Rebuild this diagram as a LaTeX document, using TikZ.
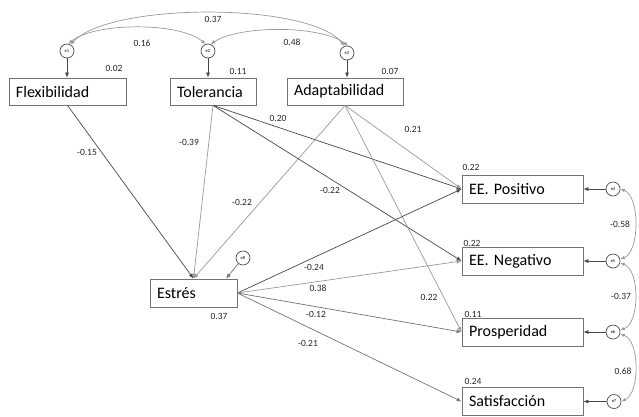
\documentclass[tikz,border=0pt]{standalone}
\usepackage{fontspec}
\setmainfont{Carlito}
\usetikzlibrary{arrows.meta,calc}
\begin{document}
\begin{tikzpicture}[x=1pt, y=-1pt, font=\fontsize{9.5}{11}\selectfont,
  var/.style={draw=black!55, line width=0.8pt, minimum height=27pt, inner xsep=7pt,
    align=left, font=\fontsize{16}{18}\selectfont},
  err/.style={draw=black!70, circle, minimum size=14pt, inner sep=0pt, line width=0.7pt,
    font=\fontsize{4.5}{5}\selectfont},
  num/.style={inner sep=0pt, text=black!85},
  dk/.style={draw=black!72, line width=0.7pt, -{Latex[length=5pt,width=4pt]}},
  md/.style={draw=black!55, line width=0.7pt, -{Latex[length=5pt,width=4pt]}},
  lt/.style={draw=black!40, line width=0.7pt, -{Latex[length=5pt,width=4pt]}},
  cov/.style={draw=black!40, line width=0.7pt,
    {Latex[length=4.5pt,width=3.5pt]}-{Latex[length=4.5pt,width=3.5pt]}}]
\useasboundingbox (0,0) rectangle (639,416);
% observed variables
\node[var, text width=103pt] (flex) at (67.5,91.5) {Flexibilidad};
\node[var, text width=72pt] (tol) at (213,91.5) {Tolerancia};
\node[var, text width=102pt] (adap) at (345,91.5) {Adaptabilidad};
\node[var, text width=73pt, minimum height=28pt] (estres) at (193.5,293) {Estrés};
\foreach \n/\y/\t in {pos/189/EE. Positivo, neg/261/EE. Negativo,
    pros/332/Prosperidad, sat/401.5/Satisfacción}
  \node[var, text width=107pt, minimum height=28pt] (\n) at (522.5,\y) {\t};
% error terms
\foreach \n/\x/\y in {1/67/51, 2/208/51, 3/347/53, 4/613/189, 5/613/261,
    6/613/332, 7/614/401.5, 8/243/258}
  \node[err] (e\n) at (\x,\y) {e\n};
\foreach \e/\v in {1/flex, 2/tol, 3/adap} \draw[dk] (e\e) -- (e\e |- \v.north);
\foreach \e/\v in {4/pos, 5/neg, 6/pros, 7/sat} \draw[dk] (e\e) -- (e\e -| \v.east);
\draw[md] (e8) -- ($(estres.north west)!0.87!(estres.north east)$);
% paths into Estrés
\draw[dk] (flex.south) -- (estres.north);
\draw[lt] (tol.south) -- (estres.north);
\draw[lt] (adap.south) -- (estres.north);
% paths into outcomes
\draw[dk] (tol.south) -- (pos.west);
\draw[dk] (tol.south) -- (neg.west);
\draw[lt] (adap.south) -- (pos.west);
\draw[lt] (adap.south) -- (pros.west);
\draw[dk] (estres.east) -- (pos.west);
\draw[lt] (estres.east) -- (neg.west);
\draw[md] (estres.east) -- (pros.west);
\draw[md] (estres.east) -- (sat.west);
% covariances
\draw[cov] (e1.60) .. controls (110,2) and (310,2) .. (e3.110);
\draw[cov] (e1.80) .. controls (95,22) and (180,22) .. (e2.110);
\draw[cov] (e2.70) .. controls (240,25) and (320,25) .. (e3.80);
\draw[cov] (e4.0) .. controls (640,196) and (640,252) .. (e5.15);
\draw[cov] (e5.-15) .. controls (640,270) and (640,323) .. (e6.15);
\draw[cov] (e6.-15) .. controls (640,341) and (640,393) .. (e7.0);
% estimates
\foreach \i/\x/\y/\t in {1/213/19/0.37, 2/142/43/0.16, 3/292/42/0.48, 4/114/68/0.02,
    5/238/71/0.11, 6/390/71/0.07, 7/87/152/-0.15, 8/189/142/-0.39, 9/278/118/0.20,
    10/242/202/-0.22, 11/413/129/0.21, 12/330/190/-0.22, 13/471/167/0.22,
    14/472/243/0.22, 15/429/297/0.22, 16/473/314/0.11, 17/473/381/0.24,
    18/314/267/-0.24, 19/318/288/0.38, 20/316/314/-0.12, 21/308/343/-0.21,
    22/219/316/0.37, 23/620/224/-0.58, 24/621/296/-0.37, 25/623/371/0.68}
  \node[num] (n\i) at (\x,\y) {\t};
\end{tikzpicture}
\end{document}
